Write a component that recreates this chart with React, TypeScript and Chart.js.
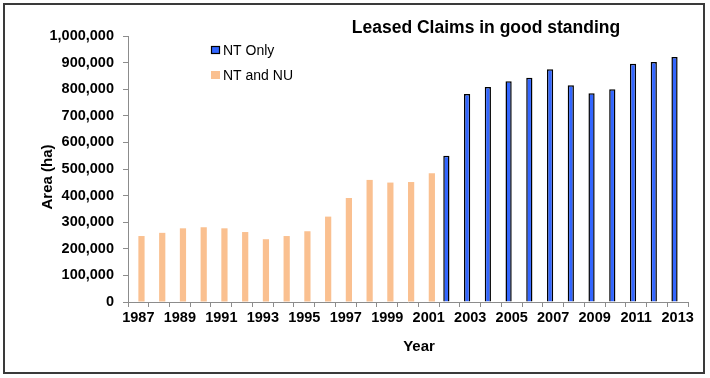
import React, { useEffect, useRef } from "react";
import { Chart, registerables } from "chart.js";

Chart.register(...registerables);

const years = [
  "1987", "1988", "1989", "1990", "1991", "1992", "1993", "1994", "1995",
  "1996", "1997", "1998", "1999", "2000", "2001", "2002", "2003", "2004",
  "2005", "2006", "2007", "2008", "2009", "2010", "2011", "2012", "2013",
];

const ntOnly = [
  null, null, null, null, null, null, null, null, null, null, null, null, null, null, null,
  550000, 782000, 808000, 830000, 843000, 875000, 815000, 785000, 800000, 896000, 902000, 921000,
];

const ntAndNu = [
  248000, 260000, 277000, 281000, 277000, 263000, 236000, 248000, 266000, 321000, 391000,
  459000, 449000, 451000, 484000,
  null, null, null, null, null, null, null, null, null, null, null, null,
];

const seriesNames = ["NT Only", "NT and NU"];
const chartTitle = "Leased Claims in good standing";
const xTitle = "Year";
const yTitle = "Area (ha)";
const yMin = 0;
const yMax = 1000000;
const yStep = 100000;

const FONT = "'Liberation Sans', Arial, Helvetica, sans-serif";
const AXIS_GRAY = "#8c8c8c";

const decorPlugin = {
  id: "decor",
  afterDraw(chart: any) {
    const ctx = chart.ctx;
    ctx.save();
    // outer border
    ctx.strokeStyle = "#3a3a3a";
    ctx.lineWidth = 2;
    ctx.strokeRect(4, 4, 700, 369);

    // title
    ctx.fillStyle = "#000";
    ctx.font = `bold 17.5px ${FONT}`;
    ctx.textAlign = "center";
    ctx.textBaseline = "middle";
    ctx.fillText(chartTitle, 486, 28);

    // x title
    ctx.font = `bold 15px ${FONT}`;
    ctx.fillText(xTitle, 419, 347);

    // y title
    ctx.save();
    ctx.translate(48, 177);
    ctx.rotate(-Math.PI / 2);
    ctx.fillText(yTitle, 0, 0);
    ctx.restore();

    // legend
    ctx.font = `14px ${FONT}`;
    ctx.textAlign = "left";
    chart.data.datasets.forEach((ds: any, i: number) => {
      const y = 50 + i * 25;
      ctx.fillStyle = ds.backgroundColor;
      ctx.fillRect(211, y - 4, 9, 8);
      if (ds.borderWidth) {
        ctx.strokeStyle = ds.borderColor;
        ctx.lineWidth = 1.2;
        ctx.strokeRect(211.5, y - 3.5, 8, 7);
      }
      ctx.fillStyle = "#000";
      ctx.fillText(ds.label, 223, y + 1);
    });
    ctx.restore();
  },
};

export default function App() {
  const ref = useRef<HTMLCanvasElement | null>(null);

  useEffect(() => {
    if (!ref.current) return;
    const chart = new Chart(ref.current, {
      type: "bar",
      data: {
        labels: years,
        datasets: [
          {
            label: seriesNames[0],
            data: ntOnly,
            backgroundColor: "#3366FF",
            borderColor: "#000000",
            borderWidth: 1.5,
            barPercentage: 1,
            categoryPercentage: 0.6,
          },
          {
            label: seriesNames[1],
            data: ntAndNu,
            backgroundColor: "#FAC090",
            borderWidth: 0,
            barPercentage: 1,
            categoryPercentage: 0.6,
          },
        ],
      },
      options: {
        responsive: false,
        animation: false,
        devicePixelRatio: 1,
        layout: { padding: { left: 28, right: 22, top: 36, bottom: 0 } },
        plugins: {
          legend: { display: false },
          title: { display: false },
          tooltip: { enabled: false },
        },
        scales: {
          x: {
            afterFit: (s: any) => {
              s.height = 76;
            },
            grid: {
              display: true,
              drawOnChartArea: false,
              drawTicks: true,
              tickLength: 5,
              color: AXIS_GRAY,
              offset: true,
            },
            border: { display: true, color: AXIS_GRAY, width: 1 },
            ticks: {
              autoSkip: false,
              maxRotation: 0,
              minRotation: 0,
              padding: 2,
              color: "#000",
              font: { family: FONT, size: 14.5, weight: "bold" },
              callback: (_v: any, i: number) => (i % 2 === 0 ? years[i] : ""),
            },
          },
          y: {
            min: yMin,
            max: yMax,
            afterFit: (s: any) => {
              s.width = 100;
            },
            grid: {
              display: true,
              drawOnChartArea: false,
              drawTicks: true,
              tickLength: 5,
              color: AXIS_GRAY,
            },
            border: { display: true, color: AXIS_GRAY, width: 1 },
            ticks: {
              stepSize: yStep,
              padding: 9,
              color: "#000",
              font: { family: FONT, size: 14.5, weight: "bold" },
              callback: (v: any) => Number(v).toLocaleString("en-US"),
            },
          },
        },
      },
      plugins: [decorPlugin],
    });
    return () => chart.destroy();
  }, []);

  return (
    <div style={{ position: "absolute", left: 0, top: 0, width: 710, height: 378, background: "#fff" }}>
      <canvas ref={ref} width={710} height={378} style={{ display: "block" }} />
    </div>
  );
}
